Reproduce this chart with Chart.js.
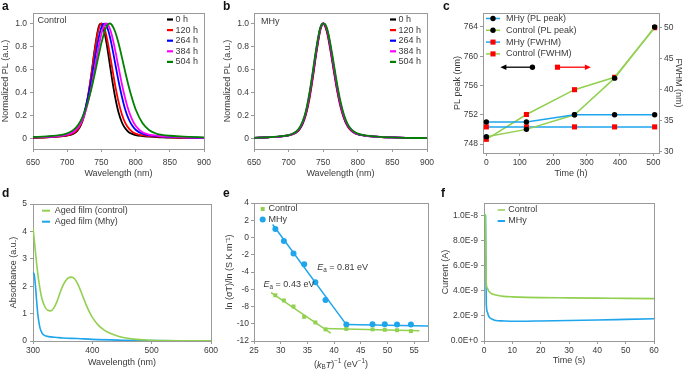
<!DOCTYPE html>
<html>
<head>
<meta charset="utf-8">
<script src="https://cdn.jsdelivr.net/npm/chart.js@4.4.1/dist/chart.umd.min.js"></script>
<style>
  html, body { margin: 0; padding: 0; background: #fff; }
  #wrap { position: relative; width: 685px; height: 370px; overflow: hidden; }
  #wrap canvas { position: absolute; left: 0; top: 0; }
  .tag { position: absolute; font: bold 12px "Liberation Sans", Arial, sans-serif; color: #111; line-height: 14px; }
</style>
</head>
<body>
<div id="wrap">
  <canvas id="pa" width="685" height="370"></canvas>
  <canvas id="pb" width="685" height="370"></canvas>
  <canvas id="pc" width="685" height="370"></canvas>
  <canvas id="pd" width="685" height="370"></canvas>
  <canvas id="pe" width="685" height="370"></canvas>
  <canvas id="pf" width="685" height="370"></canvas>
  <div class="tag" style="left:2px;top:-1px">a</div>
  <div class="tag" style="left:223px;top:-1px">b</div>
  <div class="tag" style="left:443px;top:-1px">c</div>
  <div class="tag" style="left:2px;top:186px">d</div>
  <div class="tag" style="left:223px;top:186px">e</div>
  <div class="tag" style="left:441px;top:186px">f</div>
</div>
<script>
/* ---------- a, b: normalized PL spectra ---------- */
const wavelength = [650,670,690,700,705,710,715,720,725,730,735,740,745,747.5,750,752.5,755,757.5,760,762.5,765,770,775,780,785,790,795,800,810,820,830,840,850,870,900];
const ctrl0h   = [.007,.011,.019,.027,.033,.045,.069,.117,.203,.345,.543,.766,.945,.992,.997,.967,.908,.829,.735,.636,.538,.363,.228,.140,.087,.056,.041,.031,.022,.017,.013,.011,.008,.006,.004];
const ctrl120h = [.007,.012,.020,.029,.037,.051,.077,.128,.216,.355,.541,.750,.927,.979,1.0,.985,.946,.887,.813,.727,.639,.467,.321,.210,.135,.089,.060,.044,.028,.021,.017,.014,.011,.0075,.005];
const ctrl264h = [.010,.016,.025,.036,.046,.064,.097,.148,.228,.350,.500,.675,.844,.913,.965,.995,.998,.977,.938,.882,.814,.658,.500,.364,.249,.168,.113,.077,.042,.029,.022,.017,.015,.010,.0065];
const ctrl384h = [.011,.016,.025,.036,.045,.062,.090,.134,.203,.305,.438,.599,.766,.843,.909,.960,.992,.999,.984,.951,.903,.772,.620,.472,.343,.239,.165,.112,.056,.035,.026,.020,.017,.011,.007];
const ctrl504h = [.014,.020,.031,.046,.059,.080,.111,.158,.225,.315,.424,.554,.695,.763,.829,.887,.936,.972,.994,.999,.989,.929,.829,.705,.575,.452,.345,.255,.135,.073,.044,.031,.025,.017,.011];
const mhy0h   = [.007,.012,.020,.029,.037,.051,.077,.128,.216,.355,.541,.750,.927,.979,1.0,.983,.941,.876,.794,.704,.610,.432,.286,.182,.114,.074,.051,.038,.026,.019,.016,.012,.010,.007,.005];
const mhy120h = [.007,.012,.020,.028,.036,.049,.074,.123,.207,.342,.526,.737,.919,.975,.999,.979,.933,.864,.781,.690,.596,.420,.277,.176,.110,.072,.050,.037,.026,.019,.016,.012,.010,.007,.005];
const mhy264h = [.007,.012,.020,.029,.038,.053,.080,.133,.224,.367,.555,.762,.934,.983,1.0,.988,.950,.888,.807,.718,.624,.444,.295,.188,.118,.077,.053,.039,.027,.020,.016,.012,.010,.007,.005];
const mhy384h = [.007,.012,.020,.030,.039,.055,.083,.138,.232,.380,.570,.773,.940,.986,.999,.992,.957,.898,.819,.731,.638,.456,.304,.194,.122,.080,.055,.040,.027,.020,.016,.013,.010,.007,.005];
const mhy504h = [.007,.012,.021,.031,.040,.057,.087,.145,.240,.392,.584,.784,.947,.989,.998,.995,.965,.910,.835,.750,.660,.478,.323,.208,.131,.086,.059,.043,.028,.021,.017,.013,.011,.007,.005];
const agingLabels = ['0 h', '120 h', '264 h', '384 h', '504 h'];
const plTicksX = [650, 700, 750, 800, 850, 900];
const plTicksY = [0, 0.2, 0.4, 0.6, 0.8, 1.0];

/* ---------- c: PL peak / FWHM vs time ---------- */
const agingHours = [0, 120, 264, 384, 504];
const peakMhy  = [751, 751, 752, 752, 752];
const peakCtrl = [749, 750, 752, 757, 764];
const fwhmMhy  = [34, 34, 34, 34, 34];
const fwhmCtrl = [32, 36, 40, 42, 50];
const cTicksX = [0, 100, 200, 300, 400, 500];
const cTicksPeak = [748, 752, 756, 760, 764];
const cTicksFwhm = [30, 35, 40, 45, 50];
const cLegend = ['MHy (PL peak)', 'Control (PL peak)', 'MHy (FWHM)', 'Control (FWHM)'];

/* ---------- d: absorbance ---------- */
const absWlCtrl = [300,303,306,310,315,320,325,330,335,340,345,350,355,360,365,370,375,380,385,390,395,400,410,420,430,440,450,460,470,480,490,500,520,550,600];
const absCtrl   = [4.15,3.5,2.85,2.15,1.55,1.25,1.12,1.1,1.2,1.42,1.72,2.0,2.2,2.31,2.33,2.27,2.1,1.85,1.57,1.3,1.06,0.86,0.58,0.4,0.28,0.2,0.14,0.1,0.07,0.05,0.035,0.025,0.015,0.008,0.004];
const absWlMhy  = [300,302,304,306,308,310,312,315,318,322,326,330,340,350,375,400,450,500,550,600];
const absMhy    = [2.5,2.42,2.05,1.5,1.0,0.68,0.46,0.3,0.22,0.18,0.16,0.15,0.13,0.11,0.09,0.06,0.03,0.012,0.005,0.002];
const dTicksX = [300, 400, 500, 600];
const dTicksY = [0, 1, 2, 3, 4, 5];

/* ---------- e: activation energy ---------- */
const invKT  = [29.0, 30.6, 32.4, 34.4, 36.5, 38.4, 42.3, 47.2, 49.5, 51.8, 54.4];
const lnCtrl = [-6.7, -7.3, -8.0, -9.2, -9.85, -10.65, -10.6, -10.65, -10.7, -10.75, -10.85];
const lnMhy  = [1.0, -0.4, -1.85, -3.1, -5.2, -7.25, -10.1, -10.05, -10.05, -10.1, -10.1];
const fitCtrlX = [28.2, 39.4],  fitCtrlY = [-6.4, -11.1];
const flatCtrlX = [38.2, 56.0], flatCtrlY = [-10.55, -10.8];
const fitMhyX = [28.5, 42.3],   fitMhyY = [1.5, -10.1];
const flatMhyX = [42.3, 57.6],  flatMhyY = [-10.1, -10.25];
const eTicksX = [25, 30, 35, 40, 45, 50, 55];
const eTicksY = [-12, -10, -8, -6, -4, -2, 0, 2, 4];

/* ---------- f: dark current ---------- */
const timeS   = [0, 0.5, 0.8, 1.2, 1.6, 2, 2.5, 3.5, 5, 7, 10, 15, 20, 30, 40, 50, 60];
const curCtrl = [1.01e-8, 1.0e-8, 4.6e-9, 4.2e-9, 4.0e-9, 3.9e-9, 3.8e-9, 3.7e-9, 3.62e-9, 3.56e-9, 3.52e-9, 3.48e-9, 3.46e-9, 3.44e-9, 3.42e-9, 3.4e-9, 3.38e-9];
const curMhy  = [1.01e-8, 1.0e-8, 3.0e-9, 2.3e-9, 2.0e-9, 1.88e-9, 1.78e-9, 1.68e-9, 1.62e-9, 1.6e-9, 1.58e-9, 1.58e-9, 1.6e-9, 1.63e-9, 1.67e-9, 1.72e-9, 1.77e-9];
const fTicksX = [0, 10, 20, 30, 40, 50, 60];
const fTicksY = [0, 2e-9, 4e-9, 6e-9, 8e-9, 1e-8];

/* ---------- shared style ---------- */
const W = 685, H = 370;
const FONT = '"Liberation Sans", Arial, sans-serif';
const TXT = '#3a3a3a', FRAME = '#9a9a9a';
const GREEN = '#92d050', BLUE = '#1ea5ec';
const SPEC = ['#000000', '#ff0000', '#0000ff', '#ff00ff', '#008000'];

const pts = (xs, ys) => xs.map((x, i) => ({ x, y: ys[i] }));

function axis(min, max, ticks, fmt, pad, title, extra) {
  return Object.assign({
    type: 'linear', min, max,
    afterBuildTicks: s => { s.ticks = ticks.map(v => ({ value: v })); },
    ticks: { autoSkip: false, maxRotation: 0, padding: pad, color: TXT, font: { family: FONT, size: 8.5 }, callback: fmt },
    grid: { display: true, drawOnChartArea: false, drawTicks: true, tickLength: 3, color: FRAME },
    border: { display: false },
    title: title
      ? { display: true, text: title, color: TXT, font: { family: FONT, size: 9, lineHeight: 1.2 }, padding: 0 }
      : { display: false }
  }, extra || {});
}

function text(ctx, str, x, y, size, align) {
  ctx.fillStyle = TXT;
  ctx.font = (size || 9) + 'px ' + FONT;
  ctx.textAlign = align || 'left';
  ctx.textBaseline = 'middle';
  ctx.fillText(str, x, y);
}

function rich(ctx, parts, x, y, size, align) {
  const runs = parts.map(([t, s]) => {
    const small = s === 'sub' || s === 'sup';
    const font = (s === 'i' ? 'italic ' : '') + (small ? size * 0.7 : size) + 'px ' + FONT;
    ctx.font = font;
    return { t, font, w: ctx.measureText(t).width, dy: s === 'sub' ? size * 0.3 : s === 'sup' ? -size * 0.4 : 0 };
  });
  const total = runs.reduce((a, r) => a + r.w, 0);
  let cx = align === 'center' ? x - total / 2 : x;
  ctx.fillStyle = TXT; ctx.textAlign = 'left'; ctx.textBaseline = 'middle';
  runs.forEach(r => { ctx.font = r.font; ctx.fillText(r.t, cx, y + r.dy); cx += r.w; });
}

function seg(ctx, x1, x2, y, color, w) {
  ctx.strokeStyle = color; ctx.lineWidth = w || 1.5;
  ctx.beginPath(); ctx.moveTo(x1, y); ctx.lineTo(x2, y); ctx.stroke();
}

function dot(ctx, style, x, y, r, color) {
  ctx.fillStyle = color;
  if (style === 'rect') {
    const s = r * Math.SQRT1_2;
    ctx.fillRect(x - s, y - s, 2 * s, 2 * s);
  } else {
    ctx.beginPath(); ctx.arc(x, y, r, 0, Math.PI * 2); ctx.fill();
  }
}

function makeChart(id, area, tp, scales, datasets, extras) {
  const pad = {
    left: tp.y - 5.4,
    top: area.t,
    right: tp.y2 ? W - tp.y2 - 5.4 : W - area.r,
    bottom: H - tp.x - 5.4
  };
  scales.x.afterFit = s => { s.height = H - pad.bottom - area.b; };
  scales.y.afterFit = s => { s.width = area.l - pad.left; };
  if (scales.y2) scales.y2.afterFit = s => { s.width = W - pad.right - area.r; };
  return new Chart(document.getElementById(id), {
    type: 'line',
    data: { datasets },
    options: {
      responsive: false, animation: false, devicePixelRatio: 1,
      layout: { padding: pad },
      plugins: { legend: { display: false }, tooltip: { enabled: false } },
      elements: { point: { radius: 0 }, line: { fill: false } },
      scales
    },
    plugins: [{
      id: 'deco',
      beforeDatasetsDraw(chart) {
        const { ctx, chartArea: a } = chart;
        ctx.save();
        ctx.strokeStyle = FRAME; ctx.lineWidth = 1;
        ctx.strokeRect(Math.round(a.left) + 0.5, Math.round(a.top) + 0.5, Math.round(a.right - a.left), Math.round(a.bottom - a.top));
        ctx.restore();
      },
      afterDraw(chart) {
        if (!extras) return;
        chart.ctx.save(); extras(chart, chart.ctx); chart.ctx.restore();
      }
    }]
  });
}

/* ---------- a ---------- */
const plFmt = v => v === 0 ? '0' : v.toFixed(1);
const ctrlSpectra = [ctrl0h, ctrl120h, ctrl264h, ctrl384h, ctrl504h];
const mhySpectra = [mhy0h, mhy120h, mhy264h, mhy384h, mhy504h];

function spectraSets(list) {
  return list.map((ys, i) => ({
    data: pts(wavelength, ys), borderColor: SPEC[i], borderWidth: 1.8,
    cubicInterpolationMode: 'monotone', order: list.length - 1 - i
  }));
}

function spectraLegend(ctx, x0, name, nx, ny) {
  text(ctx, name, nx, ny, 9);
  agingLabels.forEach((lab, i) => {
    const y = 19.5 + i * 10.6;
    seg(ctx, x0, x0 + 6, y, SPEC[i], 2.2);
    text(ctx, lab, x0 + 8.5, y, 9);
  });
}

makeChart('pa', { l: 33, t: 13, r: 204, b: 149 }, { y: 5.5, x: 174 }, {
  x: axis(650, 900, plTicksX, v => String(v), 6, 'Wavelength (nm)'),
  y: axis(-0.09, 1.09, plTicksY, plFmt, 3, 'Normalized PL (a.u.)')
}, spectraSets(ctrlSpectra), (c, ctx) => spectraLegend(ctx, 167, 'Control', 37.5, 20.5));

/* ---------- b ---------- */
makeChart('pb', { l: 254, t: 13, r: 427, b: 149 }, { y: 228, x: 174 }, {
  x: axis(650, 900, plTicksX, v => String(v), 6, 'Wavelength (nm)'),
  y: axis(-0.09, 1.09, plTicksY, plFmt, 2, 'Normalized PL (a.u.)')
}, spectraSets(mhySpectra), (c, ctx) => spectraLegend(ctx, 390, 'MHy', 261, 22));

/* ---------- c ---------- */
const cSets = [
  { data: pts(agingHours, peakMhy), yAxisID: 'y', color: BLUE, marker: 'circle', mc: '#000000', r: 2.7 },
  { data: pts(agingHours, peakCtrl), yAxisID: 'y', color: GREEN, marker: 'circle', mc: '#000000', r: 2.7 },
  { data: pts(agingHours, fwhmMhy), yAxisID: 'y2', color: BLUE, marker: 'rect', mc: '#ff0000', r: 3.6 },
  { data: pts(agingHours, fwhmCtrl), yAxisID: 'y2', color: GREEN, marker: 'rect', mc: '#ff0000', r: 3.6 }
];
makeChart('pc', { l: 483, t: 13, r: 659, b: 153 }, { y: 458, x: 174, y2: 678 }, {
  x: axis(-10, 517, cTicksX, v => String(v), 2, 'Time (h)'),
  y: axis(746.77, 765.91, cTicksPeak, v => String(v), 2, 'PL peak (nm)'),
  y2: axis(29.79, 52.37, cTicksFwhm, v => String(v), 2, 'FWHM (nm)', { position: 'right' })
}, cSets.map(s => ({
  data: s.data, yAxisID: s.yAxisID, borderColor: s.color, borderWidth: 1.5, tension: 0,
  pointStyle: s.marker, pointRadius: s.r, pointBackgroundColor: s.mc, pointBorderWidth: 0
})), (c, ctx) => {
  cSets.forEach((s, i) => {
    const y = 18.5 + i * 11.8;
    seg(ctx, 486, 500, y, s.color, 1.5);
    dot(ctx, s.marker, 493, y, s.r, s.mc);
    text(ctx, cLegend[i], 506, y, 9);
  });
  // direction arrows: which axis each family belongs to
  const xs = c.scales.x, ys = c.scales.y;
  const ay = ys.getPixelForValue(758.5);
  const bx1 = xs.getPixelForValue(42), bx2 = xs.getPixelForValue(138);
  seg(ctx, bx1 + 3, bx2, ay, '#000000', 1.3);
  ctx.fillStyle = '#000000';
  ctx.beginPath(); ctx.moveTo(bx1, ay); ctx.lineTo(bx1 + 6, ay - 2.8); ctx.lineTo(bx1 + 6, ay + 2.8); ctx.closePath(); ctx.fill();
  dot(ctx, 'circle', bx2, ay, 2.7, '#000000');
  const rx1 = xs.getPixelForValue(213), rx2 = xs.getPixelForValue(313);
  seg(ctx, rx1, rx2 - 3, ay, '#ff0000', 1.3);
  ctx.fillStyle = '#ff0000';
  ctx.beginPath(); ctx.moveTo(rx2, ay); ctx.lineTo(rx2 - 6, ay - 2.8); ctx.lineTo(rx2 - 6, ay + 2.8); ctx.closePath(); ctx.fill();
  dot(ctx, 'rect', rx1, ay, 3.6, '#ff0000');
});

/* ---------- d ---------- */
makeChart('pd', { l: 33, t: 204, r: 211, b: 341 }, { y: 14, x: 363 }, {
  x: axis(300, 600, dTicksX, v => String(v), 2, 'Wavelength (nm)'),
  y: axis(0, 5, dTicksY, v => String(v), 3, 'Absorbance (a.u.)')
}, [
  { data: pts(absWlCtrl, absCtrl), borderColor: GREEN, borderWidth: 1.6, cubicInterpolationMode: 'monotone' },
  { data: pts(absWlMhy, absMhy), borderColor: BLUE, borderWidth: 1.6, cubicInterpolationMode: 'monotone' }
], (c, ctx) => {
  seg(ctx, 42, 50, 210.7, GREEN, 2); text(ctx, 'Aged film (control)', 54.7, 210.7, 9);
  seg(ctx, 42, 50, 221.7, BLUE, 2); text(ctx, 'Aged film (Mhy)', 54.7, 221.7, 9);
});

/* ---------- e ---------- */
makeChart('pe', { l: 254, t: 203, r: 428, b: 341 }, { y: 229.5, x: 365 }, {
  x: axis(25, 57.6, eTicksX, v => String(v), 2, null),
  y: axis(-12, 4, eTicksY, v => String(v), 2, 'ln (σT)/ln (S K m⁻¹)')
}, [
  { data: pts(fitCtrlX, fitCtrlY), borderColor: GREEN, borderWidth: 1.5 },
  { data: pts(flatCtrlX, flatCtrlY), borderColor: GREEN, borderWidth: 1.5 },
  { data: pts(fitMhyX, fitMhyY), borderColor: BLUE, borderWidth: 1.5 },
  { data: pts(flatMhyX, flatMhyY), borderColor: BLUE, borderWidth: 1.5 },
  { data: pts(invKT, lnCtrl), showLine: false, pointStyle: 'rect', pointRadius: 2.8, pointBackgroundColor: GREEN, pointBorderWidth: 0 },
  { data: pts(invKT, lnMhy), showLine: false, pointStyle: 'circle', pointRadius: 3, pointBackgroundColor: BLUE, pointBorderWidth: 0 }
], (c, ctx) => {
  dot(ctx, 'rect', 262.7, 209, 2.8, GREEN); text(ctx, 'Control', 268.5, 209, 9);
  dot(ctx, 'circle', 262.7, 219.5, 3, BLUE); text(ctx, 'MHy', 268.5, 219.5, 9);
  const xs = c.scales.x, ys = c.scales.y;
  rich(ctx, [['E', 'i'], ['a', 'sub'], [' = 0.81 eV', '']], xs.getPixelForValue(36.85), ys.getPixelForValue(-3.5), 9, 'left');
  rich(ctx, [['E', 'i'], ['a', 'sub'], [' = 0.43 eV', '']], xs.getPixelForValue(26.8), ys.getPixelForValue(-5.5), 9, 'left');
  const a = c.chartArea;
  rich(ctx, [['(', ''], ['k', 'i'], ['B', 'sub'], ['T', 'i'], [')', ''], ['−1', 'sup'], [' (eV', ''], ['−1', 'sup'], [')', '']],
    (a.left + a.right) / 2, 365, 9, 'center');
});

/* ---------- f ---------- */
makeChart('pf', { l: 484, t: 203, r: 654, b: 341 }, { y: 445.5, x: 361 }, {
  x: axis(0, 60, fTicksX, v => String(v), 2, 'Time (s)'),
  y: axis(0, 1.1e-8, fTicksY, v => v.toExponential(1).toUpperCase(), 3, 'Current (A)')
}, [
  { data: pts(timeS, curCtrl), borderColor: GREEN, borderWidth: 1.6, cubicInterpolationMode: 'monotone' },
  { data: pts(timeS, curMhy), borderColor: BLUE, borderWidth: 1.6, cubicInterpolationMode: 'monotone' }
], (c, ctx) => {
  seg(ctx, 497.7, 505, 210, GREEN, 1.5); text(ctx, 'Control', 508.3, 210, 9);
  seg(ctx, 497.7, 505, 221, BLUE, 2); text(ctx, 'MHy', 508.3, 221, 9);
});
</script>
</body>
</html>
